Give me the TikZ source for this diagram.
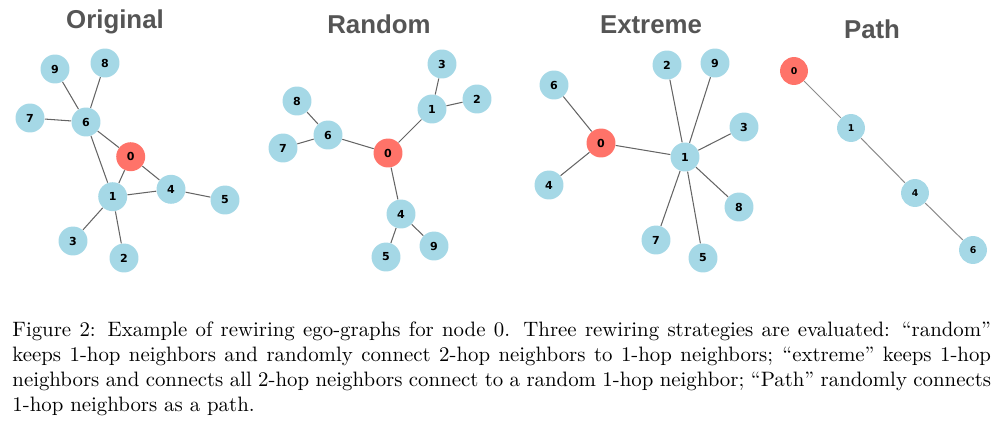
\documentclass[tikz,border=0pt]{standalone}
\usepackage{fontspec}
\newfontfamily\titlefont{Liberation Sans}
\newfontfamily\labelfont{DejaVu Sans}
\definecolor{hopblue}{RGB}{165,216,230}
\definecolor{egored}{RGB}{255,115,105}
\definecolor{edgegray}{RGB}{100,100,100}
\definecolor{pathgray}{RGB}{140,140,140}
\definecolor{titlegray}{RGB}{85,85,85}
\setlength{\parindent}{0pt}

\begin{document}
\begin{tikzpicture}[x=0.48pt,y=-0.48pt]
  \tikzstyle{hop}=[circle,fill=hopblue,minimum size=13.9pt,inner sep=0pt,font=\labelfont\bfseries\fontsize{5.3}{6}\selectfont]
  \tikzstyle{ego}=[hop,fill=egored]
  \tikzstyle{small hop}=[hop,minimum size=13.4pt,font=\labelfont\bfseries\fontsize{4.5}{5}\selectfont]
  \tikzstyle{heading}=[anchor=base,text=titlegray,font=\titlefont\bfseries\fontsize{12.4}{14}\selectfont]
  \tikzstyle{link}=[draw=edgegray,line width=0.5pt]
  \useasboundingbox (0,0) rectangle (1000,423);
  % original
  \node [heading] (t1) at (115,28) {Original};
  \node [hop] (o9) at (55,69) {9};
  \node [hop] (o8) at (105,63) {8};
  \node [hop] (o7) at (30,118) {7};
  \node [hop] (o6) at (86,122) {6};
  \node [ego] (o0) at (130.7,156.7) {0};
  \node [hop] (o4) at (171,189.3) {4};
  \node [hop] (o5) at (225,200) {5};
  \node [hop] (o1) at (112.7,196.7) {1};
  \node [hop] (o3) at (73,241) {3};
  \node [hop] (o2) at (124,258) {2};
  \draw [link] (o9) -- (o6);
  \draw [link] (o8) -- (o6);
  \draw [link] (o7) -- (o6);
  \draw [link] (o6) -- (o0);
  \draw [link] (o6) -- (o1);
  \draw [link] (o0) -- (o1);
  \draw [link] (o0) -- (o4);
  \draw [link] (o1) -- (o4);
  \draw [link] (o4) -- (o5);
  \draw [link] (o1) -- (o3);
  \draw [link] (o1) -- (o2);
  % random
  \node [heading] (t2) at (379,33) {Random};
  \node [hop] (r3) at (442,64) {3};
  \node [hop] (r2) at (477,99) {2};
  \node [hop] (r1) at (432,109) {1};
  \node [hop] (r8) at (297,101) {8};
  \node [hop] (r6) at (328,135) {6};
  \node [hop] (r7) at (283,148) {7};
  \node [ego] (r0) at (388,153) {0};
  \node [hop] (r4) at (401,214) {4};
  \node [hop] (r9) at (434,246) {9};
  \node [hop] (r5) at (386,257) {5};
  \draw [link] (r3) -- (r1);
  \draw [link] (r2) -- (r1);
  \draw [link] (r1) -- (r0);
  \draw [link] (r8) -- (r6);
  \draw [link] (r7) -- (r6);
  \draw [link] (r6) -- (r0);
  \draw [link] (r0) -- (r4);
  \draw [link] (r4) -- (r5);
  \draw [link] (r4) -- (r9);
  % extreme
  \node [heading] (t3) at (651,33) {Extreme};
  \node [hop] (e6) at (554,85) {6};
  \node [ego] (e0) at (601,143) {0};
  \node [hop] (e4) at (549,185) {4};
  \node [hop] (e2) at (667,65) {2};
  \node [hop] (e9) at (715,63) {9};
  \node [hop] (e3) at (744,127) {3};
  \node [hop] (e1) at (685,157) {1};
  \node [hop] (e8) at (739,207) {8};
  \node [hop] (e7) at (656,240) {7};
  \node [hop] (e5) at (703,258) {5};
  \draw [link] (e6) -- (e0);
  \draw [link] (e4) -- (e0);
  \draw [link] (e0) -- (e1);
  \draw [link] (e1) -- (e2);
  \draw [link] (e1) -- (e9);
  \draw [link] (e1) -- (e3);
  \draw [link] (e1) -- (e8);
  \draw [link] (e1) -- (e7);
  \draw [link] (e1) -- (e5);
  % path
  \node [heading] (t4) at (872,38) {Path};
  \node [small hop,fill=egored] (p0) at (794,71) {0};
  \node [small hop] (p1) at (851,128) {1};
  \node [small hop] (p4) at (915,193) {4};
  \node [small hop] (p6) at (973,250) {6};
  \draw [link,draw=pathgray] (p0) -- (p1);
  \draw [link,draw=pathgray] (p1) -- (p4);
  \draw [link,draw=pathgray] (p4) -- (p6);
  % caption
  \node [anchor=base west,text width=469.75pt,align=justify,inner sep=0pt] (cap) at (12,336)
    {Figure 2: Example of rewiring ego-graphs for node 0. Three rewiring strategies are evaluated: ``random''\linebreak
     keeps 1-hop neighbors and randomly connect 2-hop neighbors to 1-hop neighbors; ``extreme'' keeps 1-hop\linebreak
     neighbors and connects all 2-hop neighbors connect to a random 1-hop neighbor; ``Path'' randomly connects\linebreak
     1-hop neighbors as a path.};
\end{tikzpicture}
\end{document}
